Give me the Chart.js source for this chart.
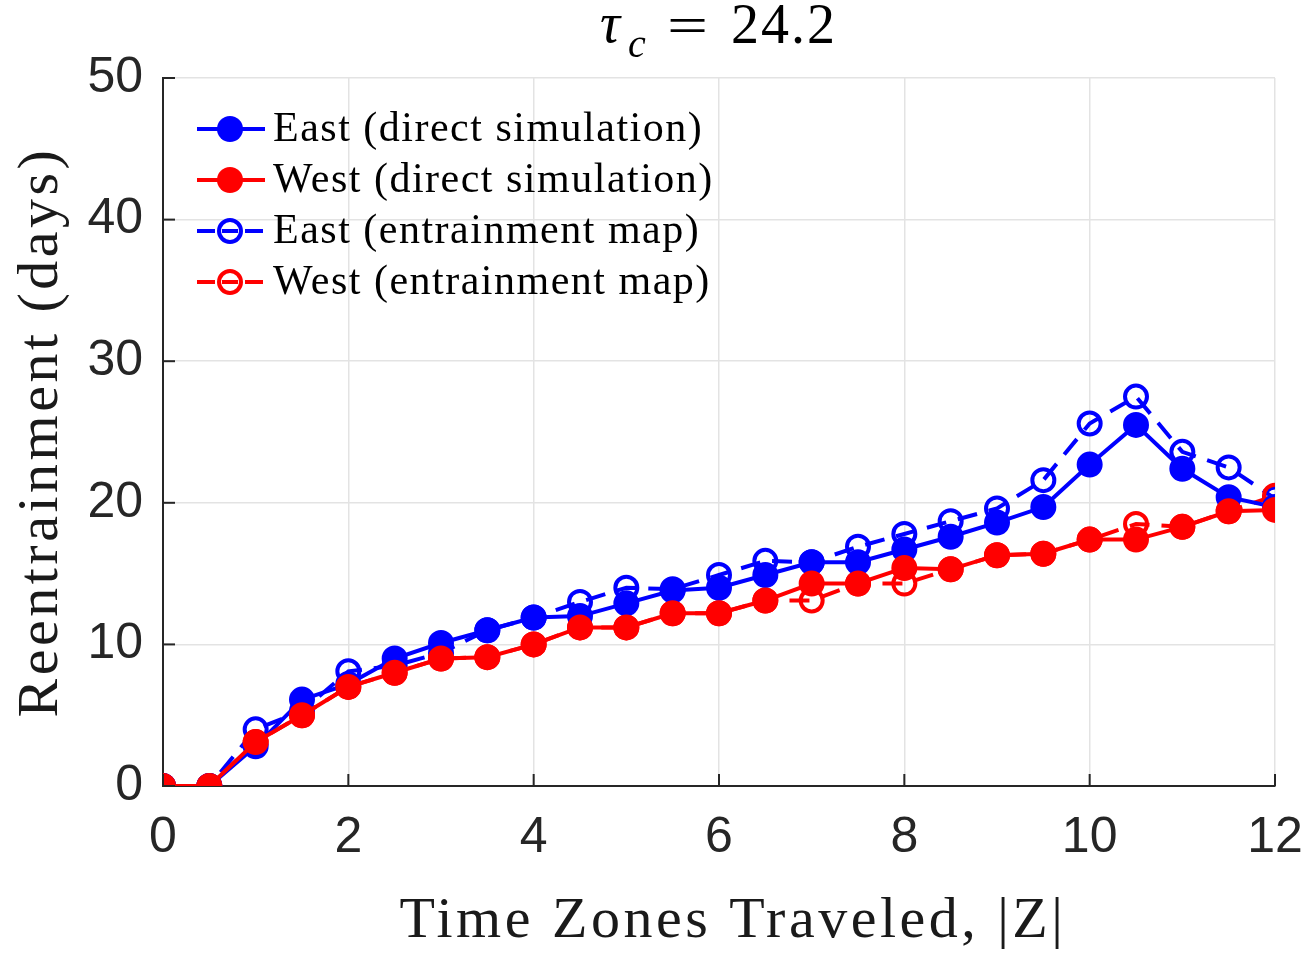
<!DOCTYPE html>
<html>
<head>
<meta charset="utf-8">
<script src="https://cdn.jsdelivr.net/npm/chart.js@4.4.1/dist/chart.umd.min.js"></script>
<style>
  html, body { margin: 0; padding: 0; background: #ffffff; }
  #wrap { width: 1310px; height: 955px; }
</style>
</head>
<body>
<div id="wrap"><canvas id="grafico" width="1310" height="955"></canvas></div>
<script>
// zonas horarias recorridas |Z|
const zonas = [0,0.5,1,1.5,2,2.5,3,3.5,4,4.5,5,5.5,6,6.5,7,7.5,8,8.5,9,9.5,10,10.5,11,11.5,12];

// dias de reentrenamiento
const esteDirecta  = [0,0,2.8,6.1,7.2,9.0,10.1,11.0,11.9,12.0,12.9,13.8,14.0,14.9,15.8,15.8,16.7,17.6,18.6,19.7,22.7,25.5,22.4,20.4,19.7];
const oesteDirecta = [0,0,3.1,5.0,7.0,8.0,9.0,9.1,10.0,11.2,11.2,12.2,12.2,13.1,14.3,14.3,15.4,15.3,16.3,16.4,17.4,17.4,18.3,19.4,19.5];
const esteMapa     = [0,0,4.0,5.3,8.1,8.5,9.4,11.0,11.9,13.0,14.0,13.9,14.9,15.9,15.8,16.9,17.8,18.7,19.6,21.6,25.6,27.5,23.6,22.5,20.3];
const oesteMapa    = [0,0,3.1,5.0,7.0,8.0,9.0,9.1,10.0,11.2,11.2,12.2,12.2,13.1,13.1,14.3,14.3,15.3,16.3,16.4,17.4,18.5,18.3,19.4,20.5];

const etiquetas = ["East (direct simulation)","West (direct simulation)","East (entrainment map)","West (entrainment map)"];
const tituloX = "Time Zones Traveled, |Z|";
const tituloY = "Reentrainment (days)";

const azul = "#0000ff";
const rojo = "#ff0000";
const tinta = "#262626";
const serif = "'Liberation Serif', 'DejaVu Serif', serif";
const sans = "'Liberation Sans', Arial, sans-serif";

const pares = ys => ys.map((y,i)=>({ x: zonas[i], y }));

function serieLlena(label, ys, color){
  return { label, data: pares(ys), borderColor: color, backgroundColor: color,
    borderWidth: 4, pointRadius: 12, pointBorderWidth: 2, pointBackgroundColor: color,
    pointBorderColor: color, pointHoverRadius: 12, tension: 0 };
}
function serieAbierta(label, ys, color){
  return { label, data: pares(ys), borderColor: color, backgroundColor: "rgba(0,0,0,0)",
    borderWidth: 4, borderDash: [20,12], pointRadius: 11, pointBorderWidth: 4,
    pointBackgroundColor: "rgba(0,0,0,0)", pointBorderColor: color, pointHoverRadius: 11, tension: 0 };
}

// titulo tau_c = 24.2 y titulos de ejes (latex no disponible, se separan letras)
const textosPlugin = {
  id: "textos",
  afterDraw(chart){
    const c = chart.ctx, a = chart.chartArea;
    c.save();
    c.fillStyle = "#000";
    c.textBaseline = "alphabetic";
    c.font = "italic 56px " + serif;
    c.fillText("\u03c4", 600, 42);
    c.font = "italic 40px " + serif;
    c.fillText("c", 628, 57);
    c.save();
    c.translate(667, 43);
    c.scale(1.4, 1);
    c.font = "52px " + serif;
    c.fillText("=", 0, 0);
    c.restore();
    c.font = "56px " + serif;
    c.letterSpacing = "2px";
    c.fillText("24.2", 731, 43);

    c.fillStyle = "#1a1a1a";
    c.font = "58px " + serif;
    c.letterSpacing = "3.5px";
    c.textAlign = "center";
    c.fillText(tituloX, (a.left + a.right) / 2 + 14, 937);
    c.translate(57, (a.top + a.bottom) / 2);
    c.rotate(-Math.PI / 2);
    c.fillText(tituloY, 0, 0);
    c.restore();
  }
};

// leyenda estilo matlab
const leyendaPlugin = {
  id: "leyenda",
  afterDraw(chart){
    const c = chart.ctx;
    const filas = [129,180,231,282];
    const estilos = [[azul,true],[rojo,true],[azul,false],[rojo,false]];
    c.save();
    filas.forEach((y,i)=>{
      const [col, lleno] = estilos[i];
      c.strokeStyle = col; c.fillStyle = col; c.lineWidth = 4;
      if (lleno){
        c.beginPath(); c.moveTo(197,y); c.lineTo(265,y); c.stroke();
        c.beginPath(); c.arc(230,y,13,0,Math.PI*2); c.fill();
      } else {
        c.beginPath(); c.moveTo(197,y); c.lineTo(215,y); c.stroke();
        c.beginPath(); c.moveTo(245,y); c.lineTo(263,y); c.stroke();
        c.beginPath(); c.arc(230,y,11,0,Math.PI*2); c.stroke();
        c.beginPath(); c.moveTo(222,y); c.lineTo(238,y); c.stroke();
      }
      c.fillStyle = "#000";
      c.font = "42px " + serif;
      c.letterSpacing = "1.5px";
      c.textBaseline = "middle";
      c.fillText(etiquetas[i], 273, y + 1);
      c.letterSpacing = "0px";
    });
    c.restore();
  }
};

// marcas de eje hacia dentro
const marcasPlugin = {
  id: "marcas",
  afterDatasetsDraw(chart){
    const c = chart.ctx, a = chart.chartArea;
    const sx = chart.scales.x, sy = chart.scales.y;
    c.save();
    c.strokeStyle = tinta; c.lineWidth = 2;
    sx.ticks.forEach(t=>{
      const px = sx.getPixelForValue(t.value);
      c.beginPath(); c.moveTo(px,a.bottom); c.lineTo(px,a.bottom-12); c.stroke();
    });
    sy.ticks.forEach(t=>{
      const py = sy.getPixelForValue(t.value);
      c.beginPath(); c.moveTo(a.left,py); c.lineTo(a.left+12,py); c.stroke();
    });
    c.restore();
  }
};

new Chart(document.getElementById("grafico").getContext("2d"), {
  type: "line",
  data: {
    datasets: [
      serieLlena(etiquetas[1], oesteDirecta, rojo),
      serieLlena(etiquetas[0], esteDirecta, azul),
      serieAbierta(etiquetas[3], oesteMapa, rojo),
      serieAbierta(etiquetas[2], esteMapa, azul)
    ]
  },
  options: {
    responsive: false,
    animation: false,
    events: [],
    layout: { padding: { left: 0, right: 35, top: 78, bottom: 0 } },
    plugins: { legend: { display: false }, tooltip: { enabled: false }, title: { display: false } },
    scales: {
      x: {
        type: "linear", min: 0, max: 12,
        ticks: { stepSize: 2, color: tinta, font: { family: sans, size: 50 }, padding: 22, maxRotation: 0 },
        grid: { color: "#e3e3e3", lineWidth: 1.5, drawTicks: false },
        border: { color: tinta, width: 2 },
        afterFit(s){ s.height = 169; s.paddingLeft = 0; s.paddingRight = 0; }
      },
      y: {
        min: 0, max: 50,
        ticks: { stepSize: 10, color: tinta, font: { family: sans, size: 50 }, padding: 20 },
        grid: { color: "#e3e3e3", lineWidth: 1.5, drawTicks: false },
        border: { color: tinta, width: 2 },
        afterFit(s){ s.width = 163; s.paddingTop = 0; s.paddingBottom = 0; }
      }
    }
  },
  plugins: [textosPlugin, leyendaPlugin, marcasPlugin]
});
</script>
</body>
</html>
